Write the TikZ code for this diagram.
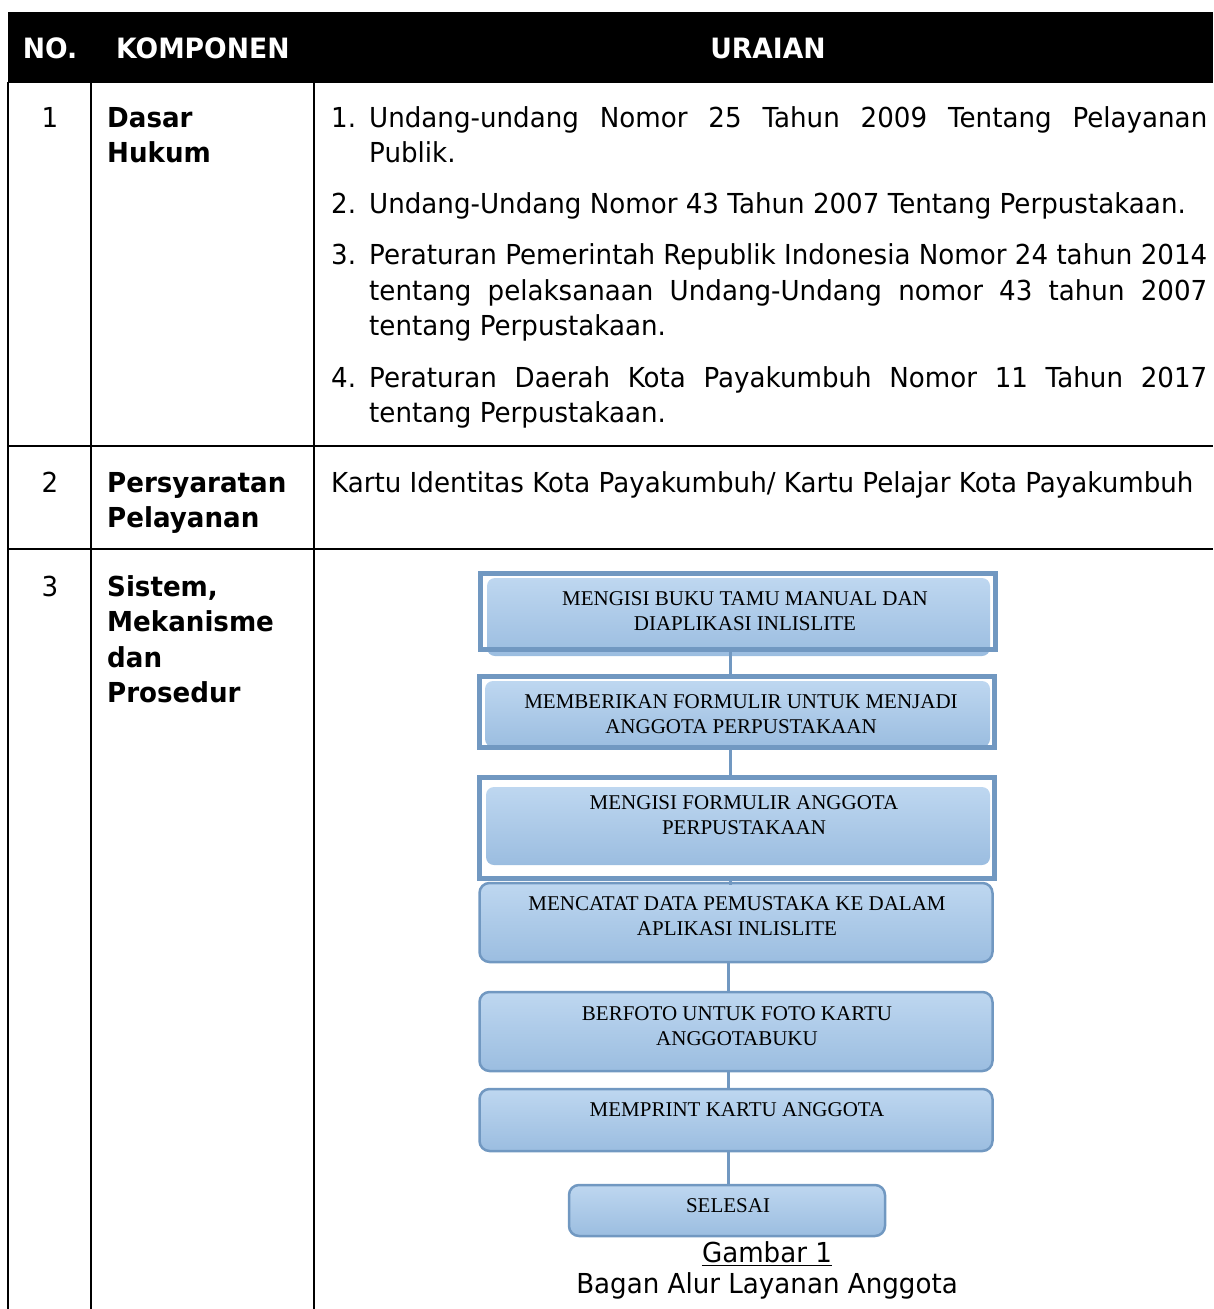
\documentclass[tikz,border=0pt]{standalone}
\usepackage{fontspec}
\setmainfont{DejaVu Sans}[FakeStretch=0.95]
\newfontfamily\boxfont{Liberation Serif}
\definecolor{flowtop}{RGB}{190,215,240}
\definecolor{flowbot}{RGB}{155,189,224}
\definecolor{flowline}{RGB}{113,152,193}

\begin{document}
\begin{tikzpicture}[x=1pt,y=-1pt,
  body/.style={inner sep=0pt,anchor=base west,font=\fontsize{27.5}{35}\selectfont},
  headtxt/.style={inner sep=0pt,anchor=base,text=white,font=\fontsize{28}{35}\selectfont\bfseries},
  rule/.style={line width=2pt},
  stepframe/.style={draw=flowline,line width=5.5pt,inner sep=0pt},
  stepfill/.style={rounded corners=8pt,top color=flowtop,bottom color=flowbot,inner sep=0pt},
  stepbox/.style={draw=flowline,line width=2.5pt,rounded corners=10pt,top color=flowtop,bottom color=flowbot,inner sep=0pt},
  steptext/.style={align=center,inner sep=0pt,font=\boxfont\fontsize{21}{25}\selectfont},
  link/.style={draw=flowline,line width=3pt}]
\useasboundingbox (0,0) rectangle (1213,1309);

% header
\fill (8,12) rectangle (1213,82.5);
\node[headtxt] (hno) at (50,58) {NO.};
\node[headtxt,anchor=base west] (hkomp) at (116,58) {KOMPONEN};
\node[headtxt] (huraian) at (768,58) {URAIAN};

% grid
\draw[rule] (8,82) -- (8,1309);
\draw[rule] (91,82) -- (91,1309);
\draw[rule] (313.5,82) -- (313.5,1309);
\draw[rule] (8,446) -- (1213,446);
\draw[rule] (8,549) -- (1213,549);

% row 1
\node[body,anchor=base] (no1) at (50,127) {1};
\node[body] (komp1a) at (107,127) {\bfseries Dasar};
\node[body] (komp1b) at (107,162.5) {\bfseries Hukum};
\node[body] (n1) at (331,127) {1.};
\node[body] (u1a) at (369,127) {\makebox[838pt][s]{Undang-undang Nomor 25 Tahun 2009 Tentang Pelayanan}};
\node[body] (u1b) at (369,162.5) {Publik.};
\node[body] (n2) at (331,213.5) {2.};
\node[body] (u2a) at (369,213.5) {Undang-Undang Nomor 43 Tahun 2007 Tentang Perpustakaan.};
\node[body] (n3) at (331,264.5) {3.};
\node[body] (u3a) at (369,264.5) {\makebox[838pt][s]{Peraturan Pemerintah Republik Indonesia Nomor 24 tahun 2014}};
\node[body] (u3b) at (369,300) {\makebox[838pt][s]{tentang pelaksanaan Undang-Undang nomor 43 tahun 2007}};
\node[body] (u3c) at (369,335.5) {tentang Perpustakaan.};
\node[body] (n4) at (331,387) {4.};
\node[body] (u4a) at (369,387) {\makebox[838pt][s]{Peraturan Daerah Kota Payakumbuh Nomor 11 Tahun 2017}};
\node[body] (u4b) at (369,422.5) {tentang Perpustakaan.};

% row 2
\node[body,anchor=base] (no2) at (50,492) {2};
\node[body] (komp2a) at (107,492) {\bfseries Persyaratan};
\node[body] (komp2b) at (107,527.5) {\bfseries Pelayanan};
\node[body] (syarat) at (331,492) {Kartu Identitas Kota Payakumbuh/ Kartu Pelajar Kota Payakumbuh};

% row 3
\node[body,anchor=base] (no3) at (50,596) {3};
\node[body] (komp3a) at (107,596) {\bfseries Sistem,};
\node[body] (komp3b) at (107,631.5) {\bfseries Mekanisme};
\node[body] (komp3c) at (107,667) {\bfseries dan};
\node[body] (komp3d) at (107,702.5) {\bfseries Prosedur};

% flow
\node[stepfill,minimum width=503,minimum height=78] (s1) at (738.5,617) {};
\node[stepframe,minimum width=515,minimum height=76] (f1) at (738,611.5) {};
\node[steptext] (t1) at (745,611.5) {MENGISI BUKU TAMU MANUAL DAN\\DIAPLIKASI INLISLITE};

\node[stepfill,minimum width=505,minimum height=66] (s2) at (737.5,714) {};
\node[stepframe,minimum width=515,minimum height=71] (f2) at (737,712) {};
\node[steptext] (t2) at (741,714.5) {MEMBERIKAN FORMULIR UNTUK MENJADI\\ANGGOTA PERPUSTAKAAN};

\node[stepfill,minimum width=504,minimum height=78] (s3) at (738,826) {};
\node[stepframe,minimum width=515,minimum height=101] (f3) at (737,828) {};
\node[steptext] (t3) at (744,815.5) {MENGISI FORMULIR ANGGOTA\\PERPUSTAKAAN};

\node[stepbox,minimum width=513,minimum height=79] (s4) at (736,922.5) {};
\node[steptext] (t4) at (737,916.5) {MENCATAT DATA PEMUSTAKA KE DALAM\\APLIKASI INLISLITE};

\node[stepbox,minimum width=513,minimum height=79] (s5) at (736,1031.5) {};
\node[steptext] (t5) at (737,1026.5) {BERFOTO UNTUK FOTO KARTU\\ANGGOTABUKU};

\node[stepbox,minimum width=513,minimum height=62] (s6) at (736,1120) {};
\node[steptext] (t6) at (737,1110) {MEMPRINT KARTU ANGGOTA};

\node[stepbox,minimum width=316,minimum height=51] (s7) at (727,1210.5) {};
\node[steptext] (t7) at (728,1206) {SELESAI};

\coordinate (spineA) at (730,0);
\coordinate (spineB) at (728,0);
\draw[link] (f1.south -| spineA) -- (f2.north -| spineA);
\draw[link] (f2.south -| spineA) -- (f3.north -| spineA);
\draw[link] (f3.south -| spineA) -- ([yshift=-3pt]s4.north -| spineA);
\draw[link] (s4.south -| spineB) -- (s5.north -| spineB);
\draw[link] (s5.south -| spineB) -- (s6.north -| spineB);
\draw[link] (s6.south -| spineB) -- (s7.north -| spineB);

% caption
\node[body,anchor=base] (cap1) at (767,1262) {Gambar 1};
\draw[line width=1.5pt] ([yshift=-3.5pt]cap1.base west) -- ([yshift=-3.5pt]cap1.base east);
\node[body,anchor=base] (cap2) at (767,1293) {Bagan Alur Layanan Anggota};
\end{tikzpicture}
\end{document}
